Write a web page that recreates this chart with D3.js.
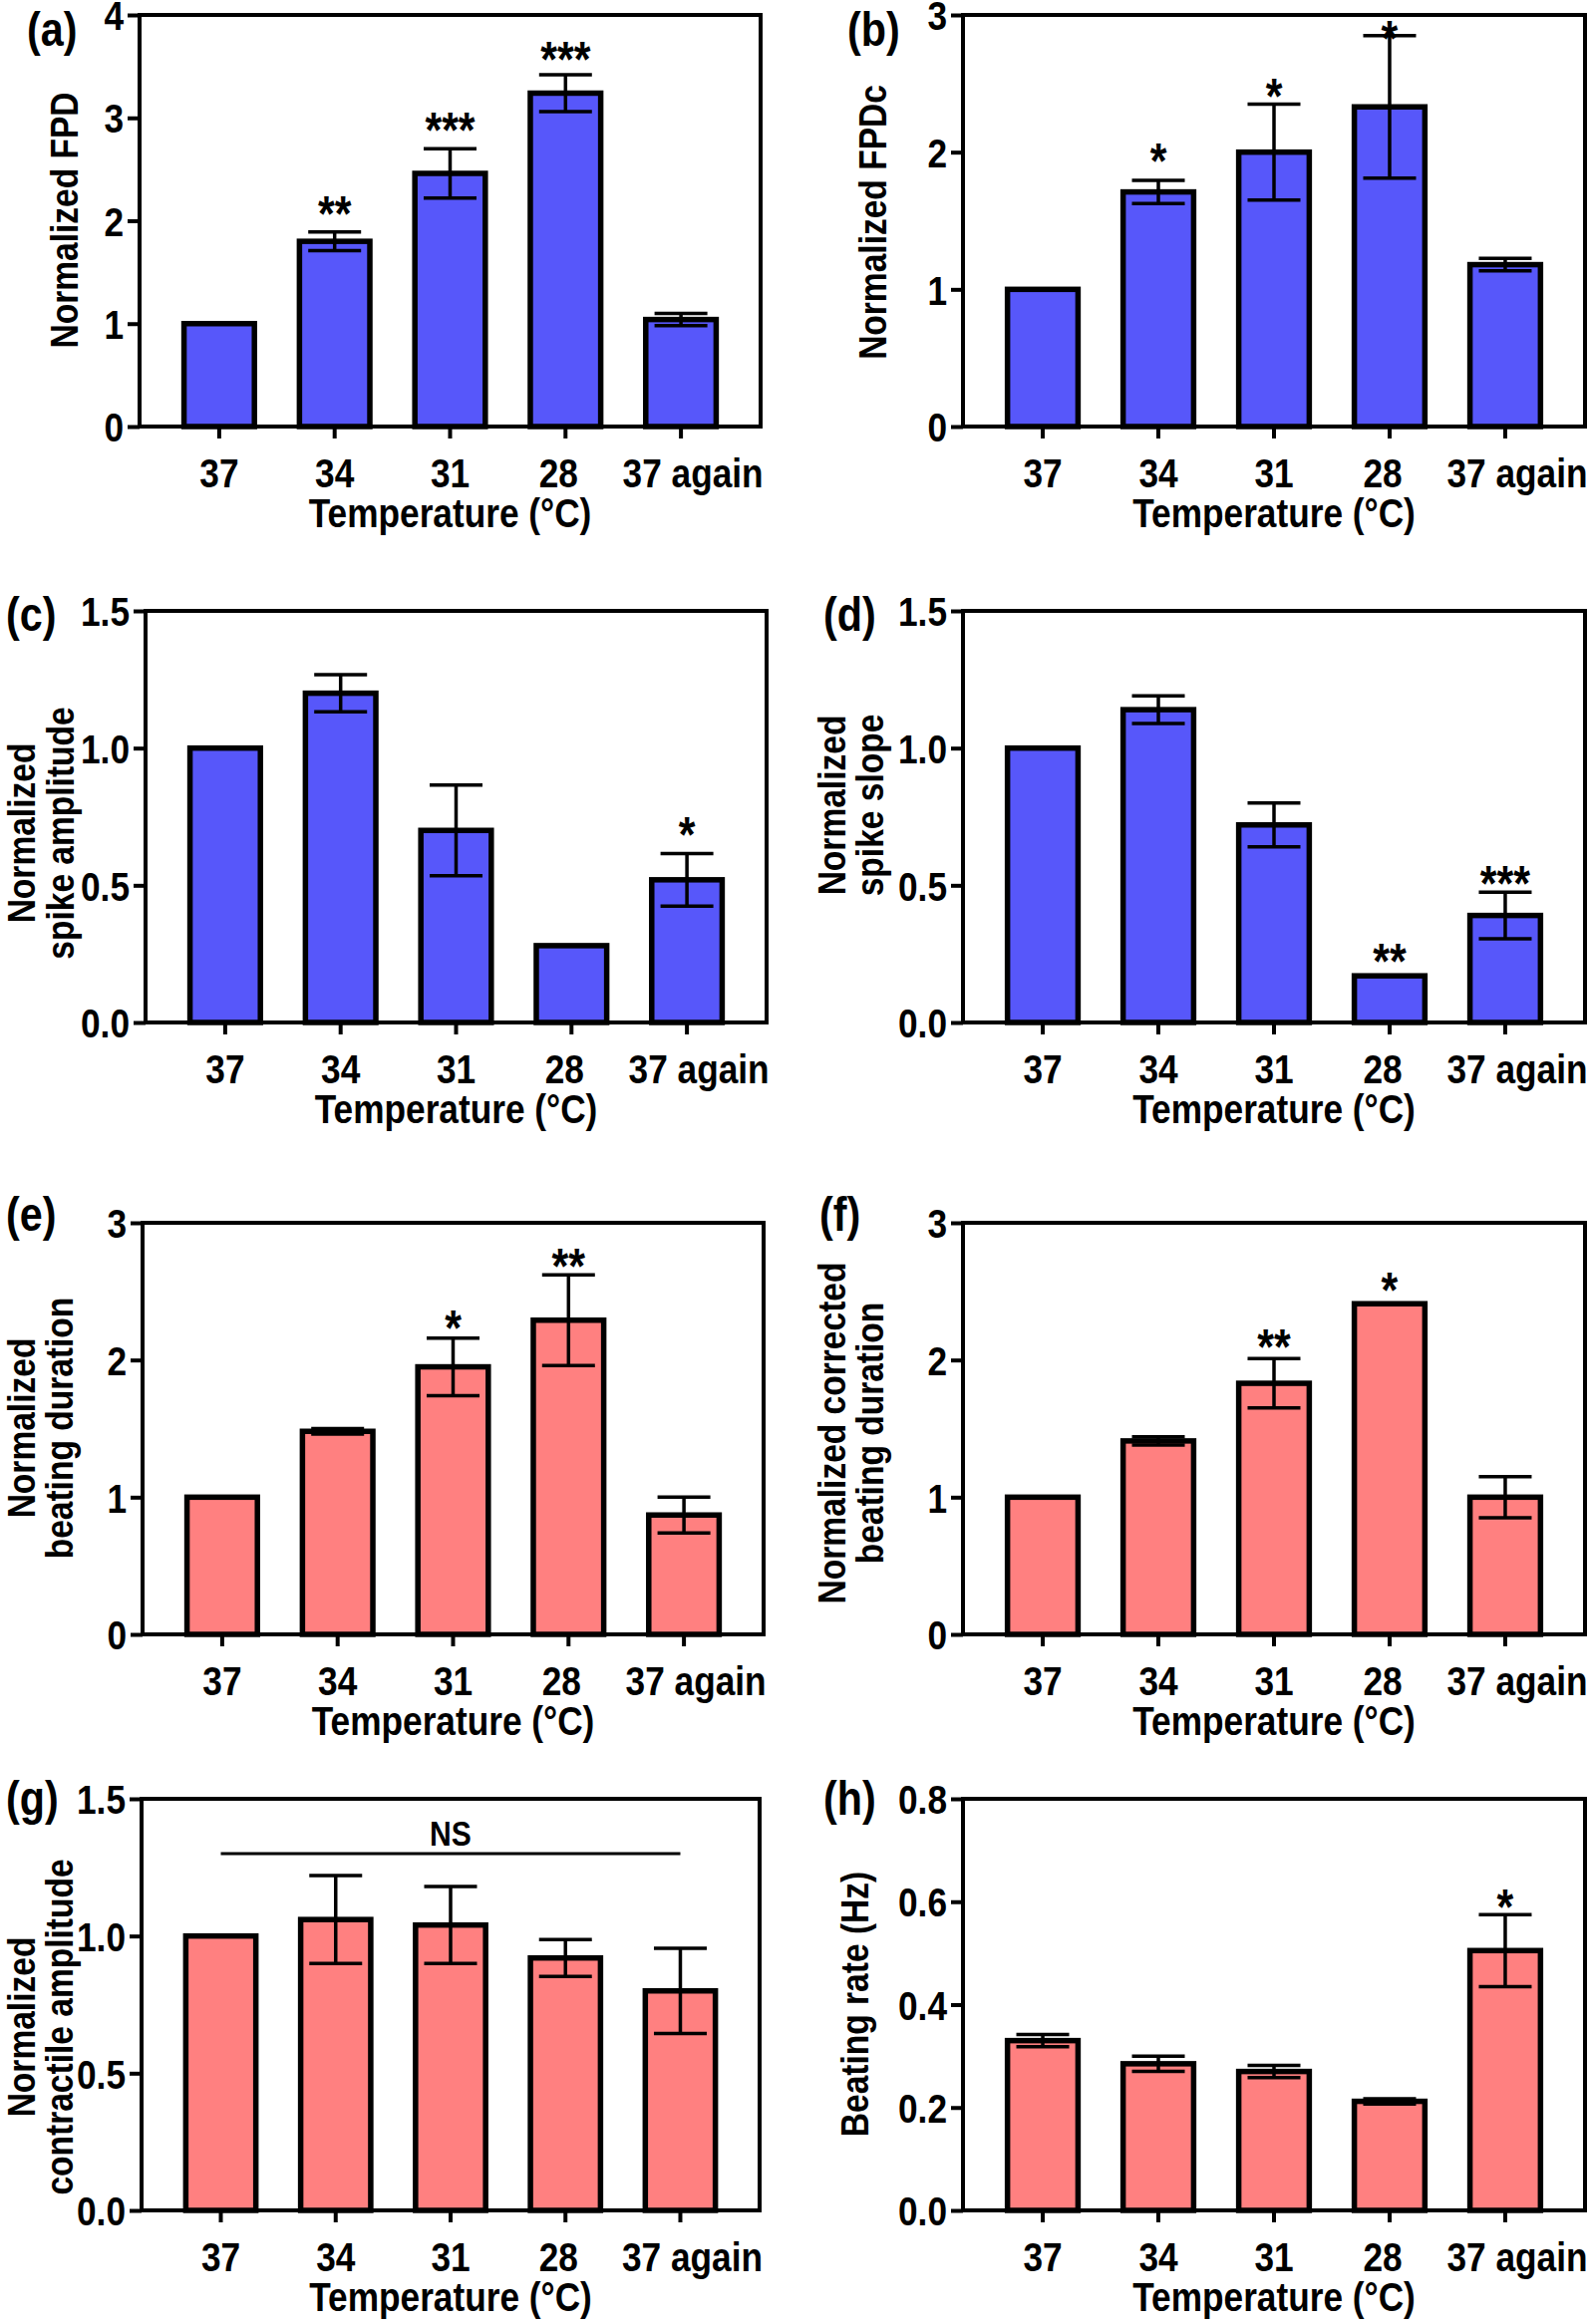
<!DOCTYPE html>
<html>
<head>
<meta charset="utf-8">
<script src="https://cdn.jsdelivr.net/npm/d3@7"></script>
<style>
  html, body { margin: 0; padding: 0; background: #fff; }
  svg { display: block; }
  text { font-family: "Liberation Sans", Arial, Helvetica, sans-serif; font-weight: bold; fill: #000; }
</style>
</head>
<body>
<svg id="chart" width="1594" height="2332"></svg>
<script>
// ---------------- DATA ----------------
const categories = ["37", "34", "31", "28", "37 again"];
const xAxisTitle = "Temperature (°C)";

// (a) Normalized FPD
const fpdMean = [1.0, 1.80, 2.46, 3.24, 1.04];
const fpdSem  = [0, 0.09, 0.24, 0.18, 0.06];
const fpdStars = ["", "**", "***", "***", ""];
const fpdStarY = [null, 2.18, 2.99, 3.68, null];
const fpdTicks = [0, 1, 2, 3, 4];

// (b) Normalized FPDc
const fpdcMean = [1.0, 1.71, 2.00, 2.33, 1.18];
const fpdcSem  = [0, 0.085, 0.35, 0.52, 0.045];
const fpdcStars = ["", "*", "*", "*", ""];
const fpdcStarY = [null, 2.02, 2.49, 2.91, null];
const fpdcTicks = [0, 1, 2, 3];

// (c) Normalized spike amplitude
const ampMean = [1.0, 1.20, 0.70, 0.28, 0.52];
const ampSem  = [0, 0.068, 0.165, 0, 0.096];
const ampStars = ["", "", "", "", "*"];
const ampStarY = [null, null, null, null, 0.725];
const ampTicks = [0, 0.5, 1.0, 1.5];

// (d) Normalized spike slope
const slopeMean = [1.0, 1.14, 0.72, 0.17, 0.39];
const slopeSem  = [0, 0.05, 0.08, 0, 0.085];
const slopeStars = ["", "", "", "**", "***"];
const slopeStarY = [null, null, null, 0.266, 0.55];
const slopeTicks = [0, 0.5, 1.0, 1.5];

// (e) Normalized beating duration
const bdMean = [1.0, 1.48, 1.95, 2.29, 0.87];
const bdSem  = [0, 0.02, 0.21, 0.33, 0.13];
const bdStars = ["", "", "*", "**", ""];
const bdStarY = [null, null, 2.32, 2.77, null];
const bdTicks = [0, 1, 2, 3];

// (f) Normalized corrected beating duration
const cbdMean = [1.0, 1.41, 1.83, 2.41, 1.0];
const cbdSem  = [0, 0.03, 0.18, 0, 0.15];
const cbdStars = ["", "", "**", "*", ""];
const cbdStarY = [null, null, 2.18, 2.59, null];
const cbdTicks = [0, 1, 2, 3];

// (g) Normalized contractile amplitude
const caMean = [1.0, 1.06, 1.04, 0.92, 0.80];
const caSem  = [0, 0.16, 0.14, 0.067, 0.155];
const caStars = ["", "", "", "", ""];
const caStarY = [null, null, null, null, null];
const caTicks = [0, 0.5, 1.0, 1.5];
const caNsLabel = "NS";
const caNsY = 1.30;

// (h) Beating rate (Hz)
const brMean = [0.33, 0.285, 0.27, 0.212, 0.505];
const brSem  = [0.012, 0.015, 0.012, 0.005, 0.07];
const brStars = ["", "", "", "", "*"];
const brStarY = [null, null, null, null, 0.613];
const brTicks = [0, 0.2, 0.4, 0.6, 0.8];

// ---------------- STYLE / LAYOUT ----------------
const BLUE = "#5757FA";
const RED = "#FF8080";
const fmtInt = d3.format("d");
const fmt1 = d3.format(".1f");
const SX = 0.86;          // horizontal condensing of the bold face
const TICK_FS = 41;
const TITLE_FS = 39;
const CAP = 0.716;
const xLabelShift = [0, 0, 0, -7, 12];   // small horizontal nudges of category labels (px)

const panels = [
  {label:"(a)", lx:27, ly:46, x0:140, y0:15, w:623, h:413, domain:[0,4], ticks:fpdTicks, fmt:fmtInt,
   mean:fpdMean, sem:fpdSem, stars:fpdStars, starY:fpdStarY, color:BLUE,
   title:["Normalized FPD"], tx:[78], tcy:221},
  {label:"(b)", lx:850, ly:46, x0:966, y0:15, w:624, h:413, domain:[0,3], ticks:fpdcTicks, fmt:fmtInt,
   mean:fpdcMean, sem:fpdcSem, stars:fpdcStars, starY:fpdcStarY, color:BLUE,
   title:["Normalized FPDc"], tx:[889], tcy:223},
  {label:"(c)", lx:6, ly:633, x0:146, y0:613, w:623, h:413, domain:[0,1.5], ticks:ampTicks, fmt:fmt1,
   mean:ampMean, sem:ampSem, stars:ampStars, starY:ampStarY, color:BLUE,
   title:["Normalized", "spike amplitude"], tx:[35, 74], tcy:836},
  {label:"(d)", lx:826, ly:633, x0:966, y0:613, w:624, h:413, domain:[0,1.5], ticks:slopeTicks, fmt:fmt1,
   mean:slopeMean, sem:slopeSem, stars:slopeStars, starY:slopeStarY, color:BLUE,
   title:["Normalized", "spike slope"], tx:[848, 886], tcy:808},
  {label:"(e)", lx:6, ly:1235, x0:143, y0:1227, w:623, h:413, domain:[0,3], ticks:bdTicks, fmt:fmtInt,
   mean:bdMean, sem:bdSem, stars:bdStars, starY:bdStarY, color:RED,
   title:["Normalized", "beating duration"], tx:[35, 73], tcy:1433},
  {label:"(f)", lx:822, ly:1235, x0:966, y0:1227, w:624, h:413, domain:[0,3], ticks:cbdTicks, fmt:fmtInt,
   mean:cbdMean, sem:cbdSem, stars:cbdStars, starY:cbdStarY, color:RED,
   title:["Normalized corrected", "beating duration"], tx:[848, 886], tcy:1438},
  {label:"(g)", lx:6, ly:1821, x0:142, y0:1805, w:620, h:413, domain:[0,1.5], ticks:caTicks, fmt:fmt1,
   mean:caMean, sem:caSem, stars:caStars, starY:caStarY, color:RED,
   title:["Normalized", "contractile amplitude"], tx:[35, 73], tcy:2034, ns:{text:caNsLabel, y:caNsY}},
  {label:"(h)", lx:826, ly:1821, x0:966, y0:1805, w:624, h:413, domain:[0,0.8], ticks:brTicks, fmt:fmt1,
   mean:brMean, sem:brSem, stars:brStars, starY:brStarY, color:RED,
   title:["Beating rate (Hz)"], tx:[871], tcy:2011}
];

const svg = d3.select("#chart");

function label(parent, x, y, s, fs, anchor, rotate) {
  return parent.append("text")
    .attr("transform", `translate(${x},${y})${rotate ? " rotate(-90)" : ""} scale(${SX},1)`)
    .attr("text-anchor", anchor)
    .style("font-size", fs + "px")
    .text(s);
}

panels.forEach(p => {
  const g = svg.append("g").attr("transform", `translate(${p.x0},${p.y0})`);
  const x = d3.scaleBand().domain(categories).range([0, p.w]).paddingInner(0.39).paddingOuter(0.385);
  const y = d3.scaleLinear().domain(p.domain).range([p.h, 0]);
  const rows = categories.map((c, i) => ({c, m:p.mean[i], s:p.sem[i], star:p.stars[i], sy:p.starY[i]}));

  // bars
  g.selectAll("rect.bar").data(rows).enter().append("rect")
    .attr("class", "bar")
    .attr("x", d => x(d.c))
    .attr("width", x.bandwidth())
    .attr("y", d => y(d.m))
    .attr("height", d => y(0) - y(d.m))
    .attr("fill", p.color)
    .attr("stroke", "#000")
    .attr("stroke-width", 5.5);

  // error bars
  const capW = 53;
  const eb = g.selectAll("g.eb").data(rows.filter(d => d.s > 0)).enter().append("g")
    .attr("transform", d => `translate(${x(d.c) + x.bandwidth()/2},0)`);
  eb.append("line").attr("x1", 0).attr("x2", 0)
    .attr("y1", d => y(d.m - d.s)).attr("y2", d => y(d.m + d.s))
    .attr("stroke", "#000").attr("stroke-width", 3.5);
  eb.append("line").attr("x1", -capW/2).attr("x2", capW/2)
    .attr("y1", d => y(d.m + d.s)).attr("y2", d => y(d.m + d.s))
    .attr("stroke", "#000").attr("stroke-width", 3.5);
  eb.append("line").attr("x1", -capW/2).attr("x2", capW/2)
    .attr("y1", d => y(d.m - d.s)).attr("y2", d => y(d.m - d.s))
    .attr("stroke", "#000").attr("stroke-width", 3.5);

  // stars
  const starFs = 50;
  rows.filter(d => d.star).forEach(d => {
    label(g, x(d.c) + x.bandwidth()/2, y(d.sy) + 0.58 * starFs, d.star, starFs, "middle", false);
  });

  // NS bracket
  if (p.ns) {
    const xa = x(categories[0]) + x.bandwidth()/2;
    const xb = x(categories[categories.length-1]) + x.bandwidth()/2;
    g.append("line").attr("x1", xa).attr("x2", xb)
      .attr("y1", y(p.ns.y)).attr("y2", y(p.ns.y))
      .attr("stroke", "#000").attr("stroke-width", 3);
    label(g, (xa + xb)/2, y(p.ns.y) - 8, p.ns.text, 35, "middle", false);
  }

  // frame
  g.append("rect").attr("x", 0).attr("y", 0).attr("width", p.w).attr("height", p.h)
    .attr("fill", "none").attr("stroke", "#000").attr("stroke-width", 4);

  // y axis
  const ya = g.append("g").call(d3.axisLeft(y).tickValues(p.ticks).tickFormat(p.fmt).tickSize(12).tickPadding(4).tickSizeOuter(0));
  ya.select(".domain").remove();
  ya.attr("font-family", null).attr("font-size", null);
  ya.selectAll("line").attr("stroke", "#000").attr("stroke-width", 4);
  ya.selectAll("text")
    .attr("x", null).attr("dy", null).attr("fill", "#000")
    .attr("transform", `translate(-16,${CAP * TICK_FS / 2}) scale(${SX},1)`)
    .style("font-size", TICK_FS + "px");

  // x axis
  const xa = g.append("g").attr("transform", `translate(0,${p.h})`)
    .call(d3.axisBottom(x).tickSize(12).tickSizeOuter(0));
  xa.select(".domain").remove();
  xa.attr("font-family", null).attr("font-size", null);
  xa.selectAll("line").attr("stroke", "#000").attr("stroke-width", 4);
  xa.selectAll("text")
    .attr("y", null).attr("dy", null).attr("fill", "#000")
    .attr("transform", (d, i) => `translate(${xLabelShift[i]},61) scale(${SX},1)`)
    .style("font-size", TICK_FS + "px");

  // x axis title
  label(g, p.w/2, p.h + 101, xAxisTitle, TICK_FS, "middle", false);

  // y axis title
  p.title.forEach((t, i) => label(svg, p.tx[i], p.tcy, t, TITLE_FS, "middle", true));

  // panel label
  label(svg, p.lx, p.ly, p.label, 48, "start", false);
});
</script>
</body>
</html>
